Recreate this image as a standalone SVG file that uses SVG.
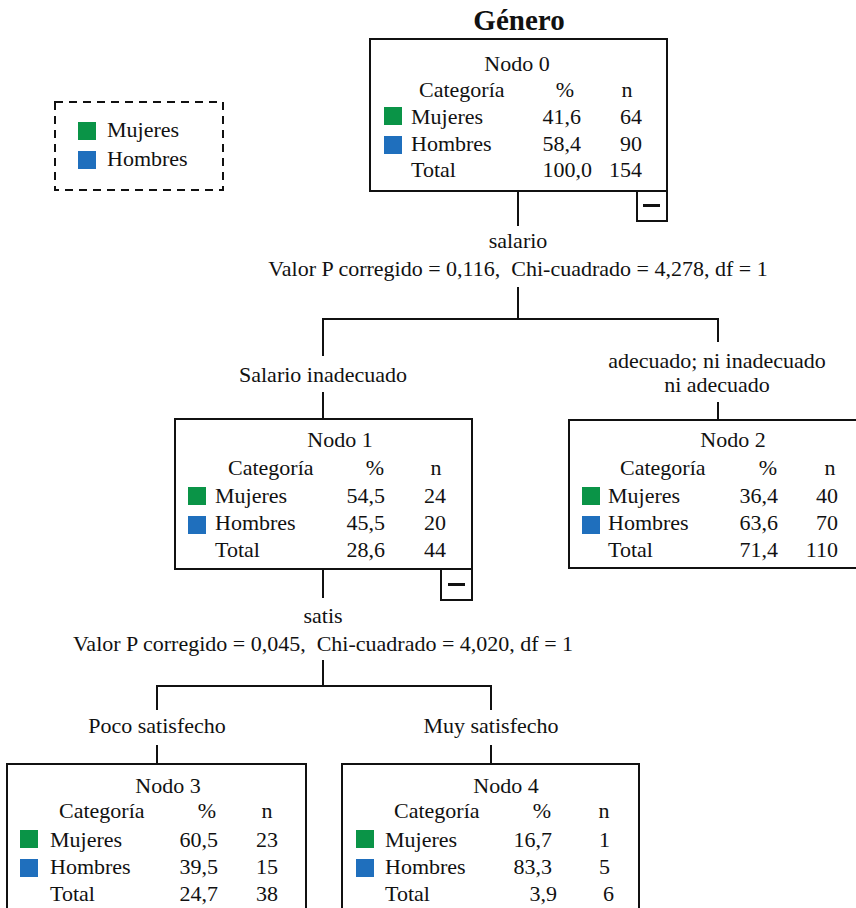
<svg xmlns="http://www.w3.org/2000/svg" width="856" height="908" viewBox="0 0 856 908">
<style>
text{font-family:"Liberation Serif","Times New Roman",serif;font-size:22px;fill:#111}
.c{text-anchor:middle}
.e{text-anchor:end}
.p{white-space:pre}
.t{font-weight:bold;font-size:29px}
.box{fill:#fff;stroke:#111;stroke-width:2}
.g{fill:#0a9447}
.b{fill:#1f6fbd}
.conn line{stroke:#111;stroke-width:2}
.minus{stroke:#111;stroke-width:3}
</style>
<rect width="856" height="908" fill="#fff"/>
<text class="c t" x="519" y="30">Género</text>

<g id="legend">
<rect x="55" y="102" width="168" height="88" fill="none" stroke="#111" stroke-width="2" stroke-dasharray="8 6"/>
<rect class="g" x="78" y="122" width="18" height="18"/>
<rect class="b" x="78" y="151" width="18" height="18"/>
<text x="107" y="137">Mujeres</text>
<text x="107" y="166">Hombres</text>
</g>

<g class="conn" id="connectors">
<line x1="518" y1="191" x2="518" y2="226"/>
<line x1="518" y1="287" x2="518" y2="319"/>
<line x1="322" y1="319" x2="719" y2="319"/>
<line x1="323" y1="319" x2="323" y2="356"/>
<line x1="718" y1="319" x2="718" y2="342"/>
<line x1="323" y1="392" x2="323" y2="419"/>
<line x1="718" y1="402" x2="718" y2="420"/>
<line x1="323" y1="569" x2="323" y2="598"/>
<line x1="323" y1="660" x2="323" y2="686"/>
<line x1="156" y1="686" x2="492" y2="686"/>
<line x1="157" y1="686" x2="157" y2="710"/>
<line x1="491" y1="686" x2="491" y2="710"/>
<line x1="157" y1="745" x2="157" y2="764"/>
<line x1="491" y1="745" x2="491" y2="764"/>
<text class="c" x="518" y="248">salario</text>
<text class="c p" x="518" y="276" xml:space="preserve">Valor P corregido = 0,116,  Chi-cuadrado = 4,278, df = 1</text>
<text class="c" x="323" y="382">Salario inadecuado</text>
<text class="c" x="717" y="368">adecuado; ni inadecuado</text>
<text class="c" x="717" y="392">ni adecuado</text>
<text class="c" x="323" y="623">satis</text>
<text class="c p" x="323" y="651" xml:space="preserve">Valor P corregido = 0,045,  Chi-cuadrado = 4,020, df = 1</text>
<text class="c" x="157" y="733">Poco satisfecho</text>
<text class="c" x="491" y="733">Muy satisfecho</text>
</g>

<g id="node0">
<rect class="box" x="370" y="39" width="297" height="152"/>
<rect class="box" x="637" y="191" width="30" height="30"/>
<line class="minus" x1="643" y1="205.5" x2="660" y2="205.5"/>
<text class="c" x="517" y="71">Nodo 0</text>
<text x="419" y="97">Categoría</text>
<text class="c" x="565" y="97">%</text>
<text class="c" x="627" y="97">n</text>
<rect class="g" x="384" y="107" width="18" height="18"/>
<rect class="b" x="384" y="136" width="18" height="18"/>
<text x="411" y="124">Mujeres</text>
<text x="411" y="151">Hombres</text>
<text x="411" y="177">Total</text>
<text class="e" x="581" y="124">41,6</text>
<text class="e" x="581" y="151">58,4</text>
<text class="e" x="592" y="177">100,0</text>
<text class="e" x="642" y="124">64</text>
<text class="e" x="642" y="151">90</text>
<text class="e" x="642" y="177">154</text>
</g>

<g id="node1">
<rect class="box" x="175" y="419" width="297" height="150"/>
<rect class="box" x="441" y="569" width="31" height="31"/>
<line class="minus" x1="448" y1="584.5" x2="465" y2="584.5"/>
<text class="c" x="340" y="447">Nodo 1</text>
<text x="228" y="475">Categoría</text>
<text class="c" x="375" y="475">%</text>
<text class="c" x="436" y="475">n</text>
<rect class="g" x="188" y="487" width="18" height="18"/>
<rect class="b" x="188" y="516" width="18" height="18"/>
<text x="215" y="503">Mujeres</text>
<text x="215" y="530">Hombres</text>
<text x="215" y="557">Total</text>
<text class="e" x="385" y="503">54,5</text>
<text class="e" x="385" y="530">45,5</text>
<text class="e" x="385" y="557">28,6</text>
<text class="e" x="446" y="503">24</text>
<text class="e" x="446" y="530">20</text>
<text class="e" x="446" y="557">44</text>
</g>

<g id="node2">
<rect class="box" x="569" y="420" width="297" height="148"/>
<text class="c" x="733" y="447">Nodo 2</text>
<text x="620" y="475">Categoría</text>
<text class="c" x="768" y="475">%</text>
<text class="c" x="830" y="475">n</text>
<rect class="g" x="582" y="487" width="18" height="18"/>
<rect class="b" x="582" y="516" width="18" height="18"/>
<text x="608" y="503">Mujeres</text>
<text x="608" y="530">Hombres</text>
<text x="608" y="557">Total</text>
<text class="e" x="778" y="503">36,4</text>
<text class="e" x="778" y="530">63,6</text>
<text class="e" x="778" y="557">71,4</text>
<text class="e" x="838" y="503">40</text>
<text class="e" x="838" y="530">70</text>
<text class="e" x="838" y="557">110</text>
</g>

<g id="node3">
<rect class="box" x="7" y="764" width="299" height="150"/>
<text class="c" x="168" y="793">Nodo 3</text>
<text x="59" y="818">Categoría</text>
<text class="c" x="207" y="818">%</text>
<text class="c" x="267" y="818">n</text>
<rect class="g" x="20" y="830" width="18" height="18"/>
<rect class="b" x="20" y="859" width="18" height="18"/>
<text x="50" y="847">Mujeres</text>
<text x="50" y="874">Hombres</text>
<text x="50" y="901">Total</text>
<text class="e" x="218" y="847">60,5</text>
<text class="e" x="218" y="874">39,5</text>
<text class="e" x="218" y="901">24,7</text>
<text class="e" x="278" y="847">23</text>
<text class="e" x="278" y="874">15</text>
<text class="e" x="278" y="901">38</text>
</g>

<g id="node4">
<rect class="box" x="342" y="764" width="297" height="150"/>
<text class="c" x="506" y="793">Nodo 4</text>
<text x="394" y="818">Categoría</text>
<text class="c" x="542" y="818">%</text>
<text class="c" x="604" y="818">n</text>
<rect class="g" x="356" y="830" width="18" height="18"/>
<rect class="b" x="356" y="859" width="18" height="18"/>
<text x="385" y="847">Mujeres</text>
<text x="385" y="874">Hombres</text>
<text x="385" y="901">Total</text>
<text class="e" x="552" y="847">16,7</text>
<text class="e" x="552" y="874">83,3</text>
<text class="e" x="557" y="901">3,9</text>
<text class="e" x="610" y="847">1</text>
<text class="e" x="610" y="874">5</text>
<text class="e" x="614" y="901">6</text>
</g>
</svg>
